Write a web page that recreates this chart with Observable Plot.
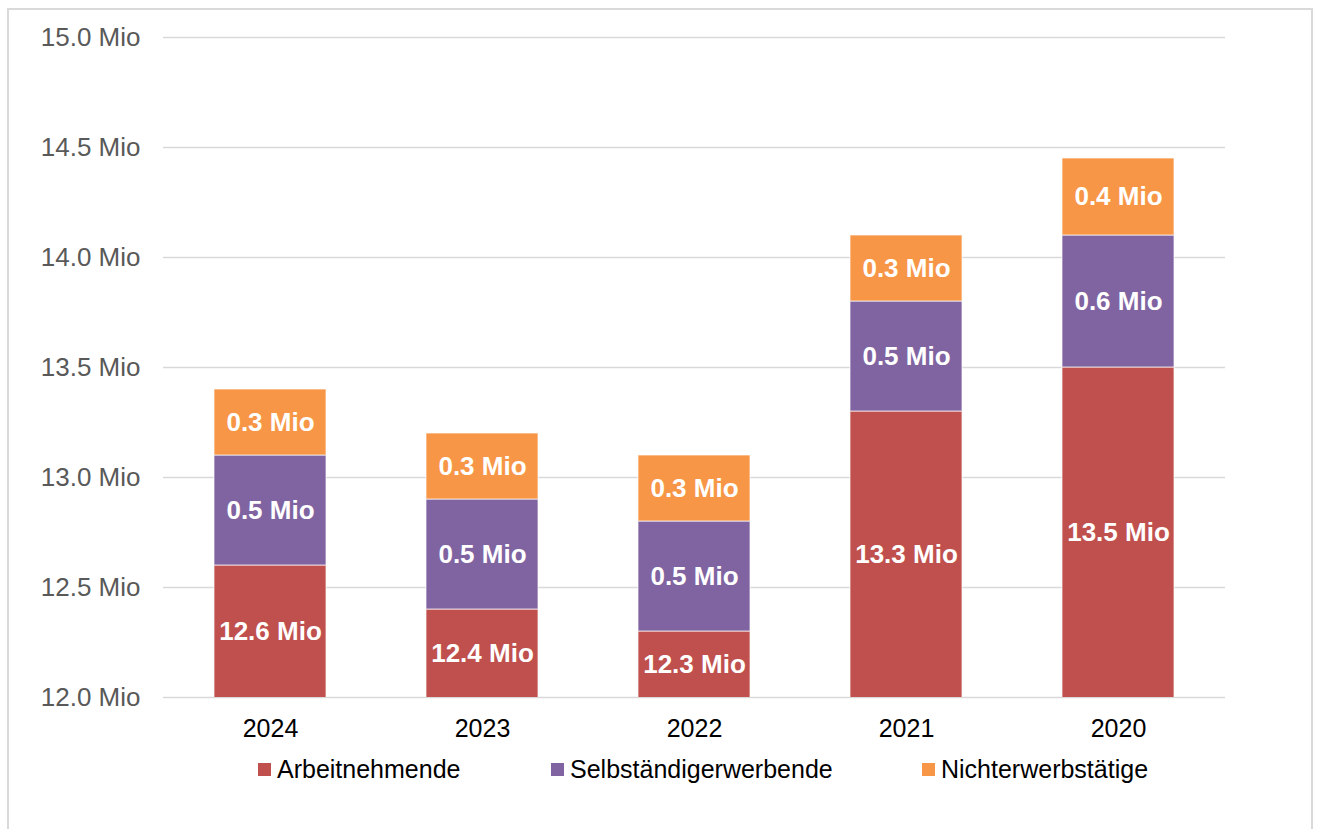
<!DOCTYPE html>
<html>
<head>
<meta charset="utf-8">
<script src="https://cdn.jsdelivr.net/npm/d3@7"></script>
<script src="https://cdn.jsdelivr.net/npm/@observablehq/plot@0.6"></script>
<style>
  html, body { margin: 0; padding: 0; background: #fff; overflow: hidden; }
  body { width: 1319px; height: 829px; position: relative; font-family: "Liberation Sans", Arial, sans-serif; }
  #frame { position: absolute; left: 7px; top: 8px; width: 1306px; height: 900px; border: 2px solid #d9d9d9; box-sizing: border-box; pointer-events: none; }
  #chart { position: absolute; left: 0; top: 0; }
  #legend { position: absolute; left: 0; top: 755px; width: 1319px; font-size: 25px; color: #000; }
  .item { display: flex; align-items: center; position: absolute; top: 0; white-space: nowrap; }
  .sw { width: 13px; height: 13px; margin-right: 6px; }
</style>
</head>
<body>
<div id="chart"></div>
<div id="legend"></div>
<div id="frame"></div>
<script>
const years = ["2024", "2023", "2022", "2021", "2020"];
const series = ["Arbeitnehmende", "Selbständigerwerbende", "Nichterwerbstätige"];
const colors = ["#C0504D", "#8064A2", "#F79646"];
const arbeitnehmende = [12.6, 12.4, 12.3, 13.3, 13.5];
const selbstaendig = [0.5, 0.5, 0.5, 0.5, 0.6];
const nichterwerb = [0.3, 0.3, 0.3, 0.3, 0.35];
const yTicks = [12.0, 12.5, 13.0, 13.5, 14.0, 14.5, 15.0];
const yDomain = [12, 15];

const valuesBySeries = [arbeitnehmende, selbstaendig, nichterwerb];
const rows = [];
years.forEach((yr, i) => {
  let base = 0;
  series.forEach((s, j) => {
    const v = valuesBySeries[j][i];
    const y1 = base, y2 = base + v;
    rows.push({year: yr, series: s, value: v, y1, y2, ly: (Math.max(y1, yDomain[0]) + y2) / 2});
    base = y2;
  });
});

const fmt = v => (Math.round(v * 10) / 10).toFixed(1) + " Mio";

const plot = Plot.plot({
  width: 1319,
  height: 750,
  marginTop: 37,
  marginBottom: 53,
  marginLeft: 163,
  marginRight: 94,
  style: {fontFamily: '"Liberation Sans", Arial, sans-serif', background: "transparent"},
  x: {domain: years, paddingInner: 0.473, paddingOuter: 0.2365, label: null},
  y: {domain: yDomain, label: null},
  color: {domain: series, range: colors},
  marks: [
    Plot.ruleY(yTicks, {stroke: "#d9d9d9", strokeWidth: 1.5}),
    Plot.barY(rows, {x: "year", y1: "y1", y2: "y2", fill: "series", stroke: "#fff", strokeWidth: 1, strokeOpacity: 0.7, clip: true, inset: 0}),
    Plot.text(rows, {x: "year", y: "ly", text: d => fmt(d.value), fill: "white", fontWeight: "bold", fontSize: 26}),
    Plot.axisY(yTicks, {tickSize: 0, tickPadding: 23, tickFormat: d => d.toFixed(1) + " Mio", fontSize: 26, color: "#595959", label: null}),
    Plot.axisX({tickSize: 0, tickPadding: 22, fontSize: 25, color: "#000", label: null})
  ]
});
document.getElementById("chart").appendChild(plot);

const legend = document.getElementById("legend");
const lefts = [258, 551, 922];
series.forEach((s, j) => {
  const it = document.createElement("div");
  it.className = "item";
  it.style.left = lefts[j] + "px";
  const sw = document.createElement("div");
  sw.className = "sw";
  sw.style.background = colors[j];
  const t = document.createElement("span");
  t.textContent = s;
  it.appendChild(sw); it.appendChild(t);
  legend.appendChild(it);
});
</script>
</body>
</html>
